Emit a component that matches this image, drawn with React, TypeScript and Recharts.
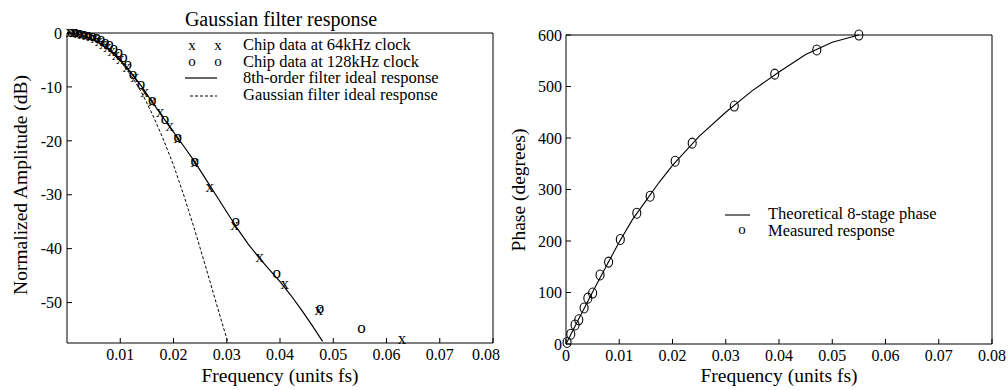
import React from 'react';
import { ComposedChart, Line, Scatter, XAxis, YAxis } from 'recharts';

const FONT = '"Liberation Serif", "Times New Roman", serif';

// ---------- Left chart: Gaussian filter response ----------
const ampTicksX = [0.01, 0.02, 0.03, 0.04, 0.05, 0.06, 0.07, 0.08];
const ampTicksY = [-50, -40, -30, -20, -10, 0];

const idealFreq = [0, 0.002, 0.004, 0.006, 0.008, 0.01, 0.012, 0.014, 0.016, 0.018, 0.02, 0.022, 0.024, 0.026, 0.028, 0.03, 0.032, 0.034, 0.036, 0.038, 0.04, 0.042, 0.044, 0.046, 0.048];
const idealDb = [0, -0.2, -0.8, -1.8, -3.2, -5.0, -7.3, -9.9, -12.8, -15.6, -18.4, -21.1, -23.9, -27.0, -30.1, -33.2, -36.3, -39.1, -41.6, -43.9, -46.1, -48.6, -51.3, -54.2, -57.2];

const gaussFreq = [0, 0.002, 0.004, 0.006, 0.008, 0.01, 0.012, 0.014, 0.016, 0.018, 0.02, 0.022, 0.024, 0.026, 0.028, 0.03, 0.0303];
const gaussDb = [0, -0.2, -0.8, -1.9, -3.3, -5.2, -7.8, -11.0, -15.0, -19.5, -24.5, -30.3, -36.6, -43.2, -50.0, -56.7, -57.5];

const chip64Freq = [0.0005, 0.0012, 0.002, 0.0028, 0.0036, 0.0044, 0.0052, 0.006, 0.0068, 0.0076, 0.0084, 0.0092, 0.01, 0.0112, 0.0127, 0.0146, 0.016, 0.0175, 0.0193, 0.0208, 0.024, 0.0268, 0.0315, 0.0362, 0.0409, 0.0473, 0.0629];
const chip64Db = [0, -0.1, -0.2, -0.3, -0.5, -0.8, -1.2, -1.7, -2.2, -2.8, -3.5, -4.3, -5.1, -6.6, -8.4, -11.1, -12.9, -14.8, -17.4, -19.6, -24.2, -28.7, -35.9, -41.7, -46.7, -51.5, -57.0];

const chip128Freq = [0.0008, 0.0016, 0.0024, 0.0032, 0.004, 0.0048, 0.0056, 0.0064, 0.0072, 0.008, 0.0088, 0.0097, 0.0106, 0.0114, 0.0124, 0.0139, 0.016, 0.0184, 0.0208, 0.024, 0.0317, 0.0394, 0.0475, 0.0553];
const chip128Db = [0, -0.1, -0.2, -0.3, -0.5, -0.7, -1.0, -1.4, -1.8, -2.3, -2.9, -3.7, -4.6, -5.9, -7.8, -9.6, -12.6, -16.1, -19.4, -23.9, -35.0, -44.8, -51.3, -55.0];

// ---------- Right chart: phase ----------
const phaseTicksX = [0, 0.01, 0.02, 0.03, 0.04, 0.05, 0.06, 0.07, 0.08];
const phaseTicksY = [0, 100, 200, 300, 400, 500, 600];

const theoFreq = [0, 0.0025, 0.005, 0.0075, 0.01, 0.0125, 0.015, 0.0175, 0.02, 0.025, 0.03, 0.035, 0.04, 0.045, 0.05, 0.055];
const theoPhase = [0, 51, 101, 150, 198, 242, 278, 314, 347, 403, 450, 492, 528, 562, 586, 600];

const measFreq = [0.0002, 0.0009, 0.0017, 0.0024, 0.0034, 0.0041, 0.005, 0.0064, 0.008, 0.0102, 0.0133, 0.0158, 0.0205, 0.0237, 0.0316, 0.0392, 0.0471, 0.055];
const measPhase = [3, 19, 37, 47, 70, 89, 99, 134, 159, 203, 254, 287, 355, 390, 462, 524, 571, 600];

const zip = (xs: number[], ys: number[]) => xs.map((f, i) => ({ f, v: ys[i] }));
const idealData = zip(idealFreq, idealDb);
const gaussData = zip(gaussFreq, gaussDb);
const chip64Data = zip(chip64Freq, chip64Db);
const chip128Data = zip(chip128Freq, chip128Db);
const theoData = zip(theoFreq, theoPhase);
const measData = zip(measFreq, measPhase);

const fmtX = (v: number) => (v === 0 ? '0' : v.toFixed(2));
const tickStyle = { fill: '#000', fontSize: 16, fontFamily: FONT };

// data marks drawn as the plotting glyphs of the original ("x" and "o")
const glyph = (ch: string, size: number) => (props: any) => {
  const { cx, cy } = props;
  if (cx == null || cy == null) return <g />;
  return (
    <text x={cx} y={cy + size * 0.23} textAnchor="middle" fontSize={size} fontFamily={FONT} fill="#000">
      {ch}
    </text>
  );
};

const ring = (props: any) => {
  const { cx, cy } = props;
  if (cx == null || cy == null) return <g />;
  return <ellipse cx={cx} cy={cy} rx={4} ry={5} fill="none" stroke="#000" strokeWidth={1.1} />;
};

export default function App() {
  return (
    <div style={{ position: 'absolute', left: 0, top: 0, width: 1008, height: 390, background: '#fff' }}>
      <div style={{ position: 'absolute', left: 0, top: 0 }}>
        <ComposedChart width={500} height={390} margin={{ top: 32, right: 6, bottom: 17, left: 27 }}>
          <XAxis xAxisId="b" type="number" dataKey="f" domain={[0, 0.08]} ticks={ampTicksX} tickFormatter={fmtX}
            stroke="#000" tickSize={-5} tickMargin={11} height={30} tick={tickStyle} />
          <XAxis xAxisId="t" orientation="top" type="number" dataKey="f" domain={[0, 0.08]} ticks={ampTicksX}
            stroke="#000" tickSize={-5} tick={false} height={1} />
          <YAxis yAxisId="l" type="number" domain={[-57.5, 0]} ticks={ampTicksY}
            stroke="#000" tickSize={-5} tickMargin={10} width={40} tick={tickStyle} />
          <YAxis yAxisId="r" orientation="right" type="number" domain={[-57.5, 0]} ticks={ampTicksY}
            stroke="#000" tickSize={-5} tick={false} width={1} />
          <Line xAxisId="b" yAxisId="l" data={gaussData} dataKey="v" type="linear" dot={false} stroke="#000"
            strokeWidth={1} strokeDasharray="3 2" isAnimationActive={false} />
          <Line xAxisId="b" yAxisId="l" data={idealData} dataKey="v" type="linear" dot={false} stroke="#000"
            strokeWidth={1.2} isAnimationActive={false} />
          <Scatter xAxisId="b" yAxisId="l" data={chip128Data} dataKey="v" shape={glyph('o', 17)} isAnimationActive={false} />
          <Scatter xAxisId="b" yAxisId="l" data={chip64Data} dataKey="v" shape={glyph('x', 17)} isAnimationActive={false} />
        </ComposedChart>
      </div>
      <div style={{ position: 'absolute', left: 500, top: 0 }}>
        <ComposedChart width={508} height={390} margin={{ top: 34, right: 15, bottom: 16, left: 26 }}>
          <XAxis xAxisId="b" type="number" dataKey="f" domain={[0, 0.08]} ticks={phaseTicksX} tickFormatter={fmtX}
            stroke="#000" tickSize={-5} tickMargin={11} height={30} tick={tickStyle} />
          <XAxis xAxisId="t" orientation="top" type="number" dataKey="f" domain={[0, 0.08]} ticks={phaseTicksX}
            stroke="#000" tickSize={-5} tick={false} height={1} />
          <YAxis yAxisId="l" type="number" domain={[0, 600]} ticks={phaseTicksY}
            stroke="#000" tickSize={-5} tickMargin={9} width={40} tick={tickStyle} />
          <YAxis yAxisId="r" orientation="right" type="number" domain={[0, 600]} ticks={phaseTicksY}
            stroke="#000" tickSize={-5} tick={false} width={1} />
          <Line xAxisId="b" yAxisId="l" data={theoData} dataKey="v" type="linear" dot={false} stroke="#000"
            strokeWidth={1.1} isAnimationActive={false} />
          <Scatter xAxisId="b" yAxisId="l" data={measData} dataKey="v" shape={ring} isAnimationActive={false} />
        </ComposedChart>
      </div>
      <svg width={1008} height={390} style={{ position: 'absolute', left: 0, top: 0, pointerEvents: 'none' }}
        fontFamily={FONT} fill="#000">
        <text x={281} y={26} fontSize={20} textAnchor="middle">Gaussian filter response</text>
        <text x={280} y={382} fontSize={19.5} textAnchor="middle">Frequency (units fs)</text>
        <text x={779} y={382} fontSize={19.5} textAnchor="middle">Frequency (units fs)</text>
        <text transform="translate(27,185) rotate(-90)" fontSize={19.5} textAnchor="middle">Normalized Amplitude (dB)</text>
        <text transform="translate(525,190) rotate(-90)" fontSize={19.5} textAnchor="middle">Phase (degrees)</text>

        {/* left legend */}
        <text x={192} y={50} fontSize={15} textAnchor="middle">x</text>
        <text x={218} y={50} fontSize={15} textAnchor="middle">x</text>
        <text x={192} y={66} fontSize={15} textAnchor="middle">o</text>
        <text x={218} y={66} fontSize={15} textAnchor="middle">o</text>
        <line x1={185} x2={217} y1={78} y2={78} stroke="#000" strokeWidth={1.2} />
        <line x1={190} x2={217} y1={96} y2={96} stroke="#000" strokeWidth={1} strokeDasharray="3 2" />
        <text x={243} y={50} fontSize={16.5}>Chip data at 64kHz clock</text>
        <text x={243} y={66.5} fontSize={16.5}>Chip data at 128kHz clock</text>
        <text x={243} y={83} fontSize={16.5}>8th-order filter ideal response</text>
        <text x={243} y={99.5} fontSize={16.5}>Gaussian filter ideal response</text>

        {/* right legend */}
        <line x1={725} x2={750} y1={215} y2={215} stroke="#000" strokeWidth={1.1} />
        <text x={742} y={234} fontSize={15} textAnchor="middle">o</text>
        <text x={768} y={219} fontSize={16.5}>Theoretical 8-stage phase</text>
        <text x={768} y={235.5} fontSize={16.5}>Measured response</text>
      </svg>
    </div>
  );
}
